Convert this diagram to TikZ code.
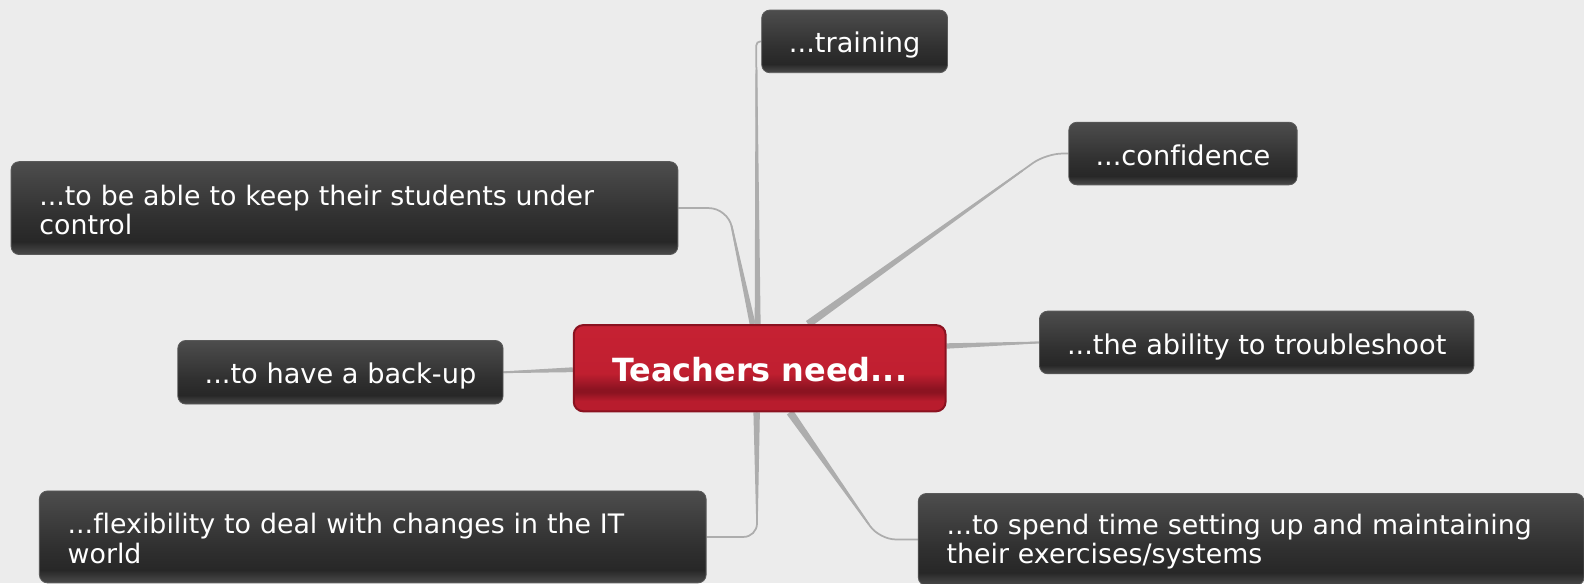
\documentclass[tikz,border=0pt]{standalone}
\usepackage{fontspec}
\setmainfont[Ligatures=NoCommon]{DejaVu Sans}
\usetikzlibrary{calc}
\definecolor{bgc}{HTML}{ECECEC}
\definecolor{brc}{HTML}{ADADAD}
\definecolor{leaftop}{HTML}{4D4D4D}
\definecolor{leafmid}{HTML}{303030}
\definecolor{leafdark}{HTML}{272727}
\definecolor{leafbot}{HTML}{4A4A4A}
\definecolor{leafedge}{HTML}{5A5A5A}
\definecolor{rtop}{HTML}{C62133}
\definecolor{rmid}{HTML}{C01F30}
\definecolor{rdark}{HTML}{8C1321}
\definecolor{rbot}{HTML}{B81C2D}
\definecolor{redge}{HTML}{8A1220}
\pgfdeclareverticalshading{leafshade}{100bp}{color(0bp)=(leafbot); color(25bp)=(leafbot); color(28bp)=(leafbot!60!leafdark); color(32bp)=(leafdark); color(45bp)=(leafmid); color(75bp)=(leaftop); color(100bp)=(leaftop)}
\pgfdeclareverticalshading{rootshade}{100bp}{color(0bp)=(rbot); color(25bp)=(rbot); color(31bp)=(rbot); color(36bp)=(rdark); color(38bp)=(rdark); color(47bp)=(rmid); color(75bp)=(rtop); color(100bp)=(rtop)}
\pgfdeclarelayer{back}
\pgfdeclarelayer{links}
\pgfsetlayers{back,links,main}
\newcommand\mmtaper[4]{\fill[brc] ($(#1)!#3!90:(#2)$) -- ($(#2)!#4!-90:(#1)$) -- ($(#2)!#4!90:(#1)$) -- ($(#1)!#3!-90:(#2)$) -- cycle;}
\newcommand\mmtop{\rule{0pt}{18pt}}
\newcommand\mmbot{\rule[-0.7pt]{0pt}{0.7pt}}
\tikzset{
  leafbase/.style={shading=leafshade, draw=leafedge, line width=0.6pt, rounded corners=6pt,
    text=white, inner sep=0pt},
  leaf/.style={leafbase, font=\fontsize{20.2}{22.5}\selectfont, text height=17.5pt, text depth=0.3pt},
  leafwide/.style={leafbase, font=\fontsize{19.9}{21.8}\selectfont, align=left, inner xsep=21pt},
  root/.style={shading=rootshade, draw=redge, line width=1.5pt, rounded corners=7pt,
    text=white, font=\fontsize{23.7}{28}\selectfont\bfseries, inner sep=0pt,
    text height=21pt, text depth=1pt,
    minimum width=276pt, minimum height=64pt},
  link/.style={draw=brc, line width=1.3pt}
}
\begin{document}
\begin{tikzpicture}[x=0.75pt,y=-0.75pt]
\begin{pgfonlayer}{back}
\fill[bgc] (0,0) rectangle (1568,577.2);
\end{pgfonlayer}
\useasboundingbox (0,0) rectangle (1568,577.2);

\node[root] (root) at (752,364.5) {Teachers need...};
\node[leaf, minimum width=138pt, minimum height=46.5pt] (train) at (846,41) {...training};
\node[leaf, minimum width=169.5pt, minimum height=46.5pt] (conf) at (1171,152) {...confidence};
\node[leaf, minimum width=322.5pt, minimum height=46.5pt] (trouble) at (1244,339) {...the ability to troubleshoot};
\node[leaf, minimum width=241.5pt, minimum height=47.25pt] (backup) at (337,368.5) {...to have a back-up};
\node[leafwide, text width=453pt, minimum height=69pt] (stud) at (341,206)
  {\mmtop...to be able to keep their students under\\control\mmbot};
\node[leafwide, text width=453pt, minimum height=68.25pt] (flex) at (369,531.5)
  {\mmtop...flexibility to deal with changes in the IT\\world\mmbot};
\node[leafwide, text width=452.25pt, minimum height=68.25pt] (spend) at (1238.5,534)
  {\mmtop...to spend time setting up and maintaining\\their exercises/systems\mmbot};

\begin{pgfonlayer}{links}
% training
\coordinate (tB) at ($(root.north)+(-2,0)$);
\coordinate (tC) at ($(train.west)+(-5,0)$);
\coordinate (tK) at ($(tB)!0.9!(tC)$);
\mmtaper{tB}{tK}{2.2pt}{0.65pt}
\draw[link, rounded corners=3pt] (tB) -- (tC) -- (train.west);
% students
\coordinate (sB) at ($(root.north)+(-7,0)$);
\coordinate (sC) at ($(stud.east)+(49,0)$);
\coordinate (sK) at ($(sB)!0.85!(sC)$);
\mmtaper{sB}{sK}{2.2pt}{0.65pt}
\draw[link, rounded corners=14pt] (sB) -- (sC) -- (stud.east);
% confidence
\coordinate (cB) at ($(root.north)+(48,0)$);
\coordinate (cC) at ($(conf.west)+(-22,0)$);
\coordinate (cK) at ($(cB)!0.9!(cC)$);
\mmtaper{cB}{cK}{2.8pt}{0.65pt}
\draw[link, rounded corners=12pt] (cB) -- (cC) -- (conf.west);
% troubleshoot
\coordinate (rB) at ($(root.east)+(0,-22)$);
\mmtaper{rB}{trouble.west}{2pt}{0.65pt}
\draw[link] (rB) -- (trouble.west);
% back-up
\coordinate (bB) at ($(root.west)+(0,1.5)$);
\mmtaper{bB}{backup.east}{1.8pt}{0.65pt}
\draw[link] (bB) -- (backup.east);
% flexibility
\coordinate (fB) at ($(root.south)+(-3,0)$);
\coordinate (fC) at ($(flex.east)+(50,0)$);
\coordinate (fK) at ($(fB)!0.85!(fC)$);
\mmtaper{fB}{fK}{2.4pt}{0.65pt}
\draw[link, rounded corners=10pt] (fB) -- (fC) -- (flex.east);
% spend
\coordinate (pB) at ($(root.south)+(30,0)$);
\coordinate (pC) at ($(spend.west)+(-38,0)$);
\coordinate (pK) at ($(pB)!0.88!(pC)$);
\mmtaper{pB}{pK}{2.8pt}{0.65pt}
\draw[link, rounded corners=12pt] (pB) -- (pC) -- (spend.west);
\end{pgfonlayer}
\end{tikzpicture}
\end{document}
